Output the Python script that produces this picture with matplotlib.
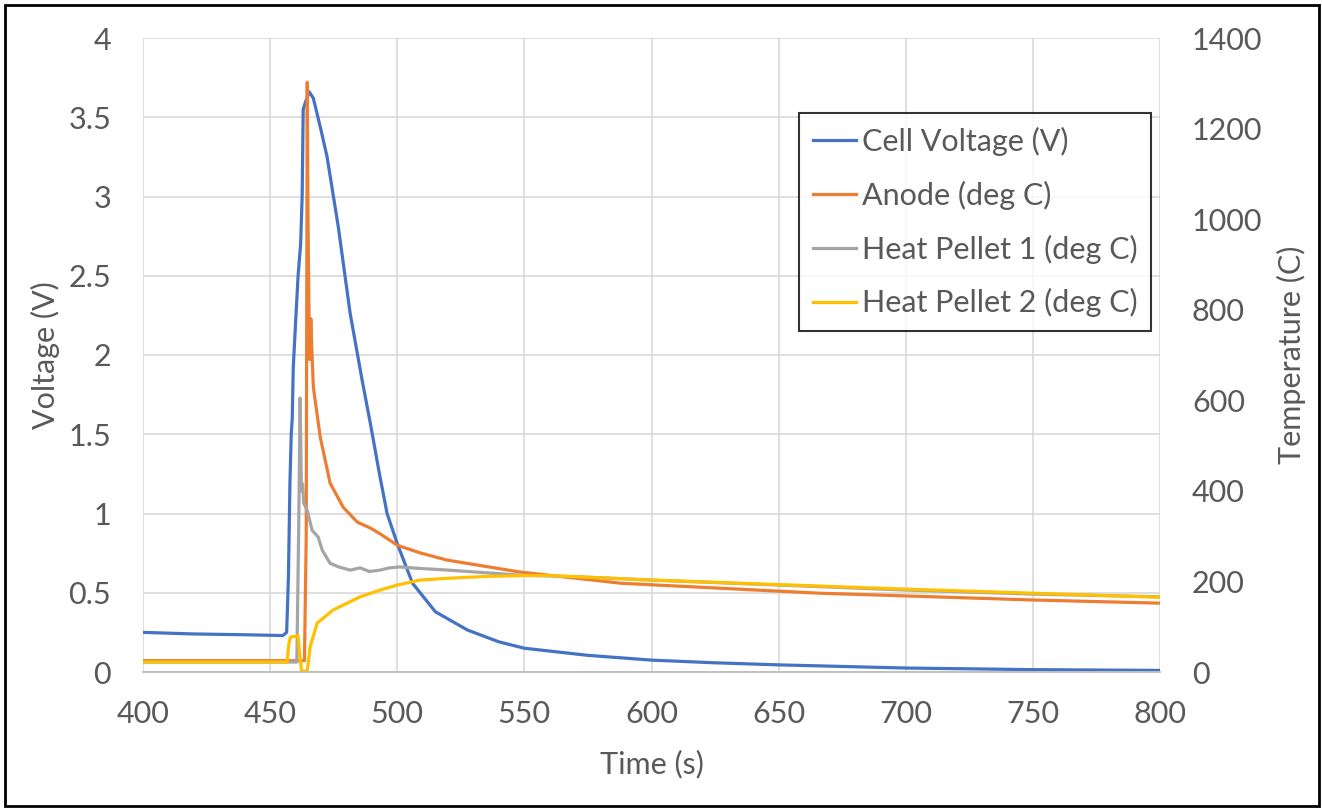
import matplotlib
matplotlib.use("Agg")
import matplotlib.pyplot as plt
from matplotlib.patches import Rectangle

# cell voltage (V) vs time (s)
volt_t = [400, 420, 440, 455, 456.5, 457.2, 457.8, 458.3, 458.7, 459.1, 460, 461, 462,
          462.6, 463, 464, 465.4, 467, 470, 472.4, 476.8, 481.5, 486.2, 489.4, 493, 496,
          500, 506, 515, 527.6, 540, 550, 575, 600, 625, 650, 700, 750, 800]
volt_v = [0.25, 0.24, 0.235, 0.23, 0.25, 0.6, 1.2, 1.5, 1.6, 1.92, 2.2, 2.5, 2.7,
          3.0, 3.55, 3.6, 3.66, 3.62, 3.42, 3.25, 2.81, 2.26, 1.84, 1.57, 1.25, 1.0,
          0.81, 0.56, 0.38, 0.265, 0.19, 0.15, 0.105, 0.075, 0.058, 0.045, 0.025, 0.015, 0.01]

# anode temperature (deg C)
anode_t = [400, 463.5, 464.2, 464.6, 464.9, 465.3, 465.6, 466, 466.5, 467, 469.7, 473.6,
           478.7, 484.3, 489.4, 493.3, 500, 509, 519.7, 548, 588, 627, 666, 700, 750, 800]
anode_T = [25, 25, 300, 1302, 1000, 784, 690, 780, 700, 629, 519, 417,
           364, 331, 318, 305, 280, 263, 247, 221, 196, 185, 174, 168, 159, 152]

# heat pellet 1 (deg C)
hp1_t = [400, 460.5, 461.2, 461.8, 462.3, 462.8, 463.2, 464.6, 466.5, 468.9, 470.5, 473.6,
         477, 481.5, 485.4, 489, 493.3, 497, 501, 508, 520, 548, 572, 600, 650, 700, 750, 800]
hp1_T = [22, 22, 300, 605, 400, 415, 373, 357, 313, 298, 269, 240,
         232, 225, 230, 222, 225, 230, 232, 229, 225, 214, 210, 203, 192, 181, 172, 166]

# heat pellet 2 (deg C)
hp2_t = [400, 456.7, 457.3, 458, 461, 461.6, 462.4, 464.6, 465.2, 465.7, 468.5, 474.8,
         485.4, 493.3, 500, 509, 520, 535, 550, 560, 600, 650, 700, 750, 800]
hp2_T = [22, 22, 60, 77, 80, 40, 2, 2, 30, 55, 108, 137,
         166, 181, 192, 203, 207, 211, 213, 213, 203, 193, 183, 174, 165]

txt = "#595959"
grid = "#d9d9d9"
fs = 22
plt.rcParams['font.family'] = ['Lato', 'DejaVu Sans']

fig = plt.figure(figsize=(13.22, 8.08), dpi=100)
ax = fig.add_axes([143/1322, 136/808, 1017/1322, 634/808])
ax2 = ax.twinx()

lw = 2.3
l1, = ax.plot(volt_t, volt_v, color="#4472C4", lw=lw, label="Cell Voltage (V)")
l2, = ax2.plot(anode_t, anode_T, color="#ED7D31", lw=lw, label="Anode (deg C)")
l3, = ax2.plot(hp1_t, hp1_T, color="#A5A5A5", lw=lw, label="Heat Pellet 1 (deg C)")
l4, = ax2.plot(hp2_t, hp2_T, color="#FFC000", lw=lw, label="Heat Pellet 2 (deg C)")

ax.set_xlim(400, 800)
ax.set_ylim(0, 4)
ax2.set_ylim(0, 1400)
ax.set_xticks(range(400, 801, 50))
ax.set_yticks([0, 0.5, 1, 1.5, 2, 2.5, 3, 3.5, 4])
ax.set_yticklabels(["0", "0.5", "1", "1.5", "2", "2.5", "3", "3.5", "4"])
ax2.set_yticks(range(0, 1401, 200))

ax.grid(True, color=grid, lw=1.2)
ax.set_axisbelow(True)
for a in (ax, ax2):
    for s in ("top", "left", "right"):
        a.spines[s].set_visible(False)
    a.spines["bottom"].set_color("#bfbfbf")
    a.spines["bottom"].set_linewidth(1.2)
ax.tick_params(axis="both", length=0, colors=txt, labelsize=fs)
ax.tick_params(axis="x", pad=20)
ax.tick_params(axis="y", pad=23)
ax2.tick_params(axis="y", length=0, colors=txt, labelsize=fs, pad=23)

ax.set_xlabel("Time (s)", color=txt, fontsize=fs)
ax.set_ylabel("Voltage (V)", color=txt, fontsize=fs)
ax2.set_ylabel("Temperature (C)", color=txt, fontsize=fs)
ax.xaxis.set_label_coords(0.5, -0.123)
ax.yaxis.set_label_coords(-0.0816, 0.5)
ax2.yaxis.set_label_coords(1.115, 0.5)

leg = ax2.legend(handles=[l1, l2, l3, l4], loc="upper right",
                 bbox_to_anchor=(1151/1322, 1 - 113/808), bbox_transform=fig.transFigure,
                 fontsize=fs, frameon=True, fancybox=False, borderaxespad=0,
                 handlelength=1.4, handletextpad=0.2, labelspacing=0.81, borderpad=0.45)
leg.get_frame().set_edgecolor("black")
leg.get_frame().set_linewidth(1.5)
for t in leg.get_texts():
    t.set_color(txt)

fig.patches.append(Rectangle((0.004, 0.002), 0.994, 0.992, transform=fig.transFigure,
                             fill=False, edgecolor="black", lw=2))

fig.savefig("out.png", dpi=100)
